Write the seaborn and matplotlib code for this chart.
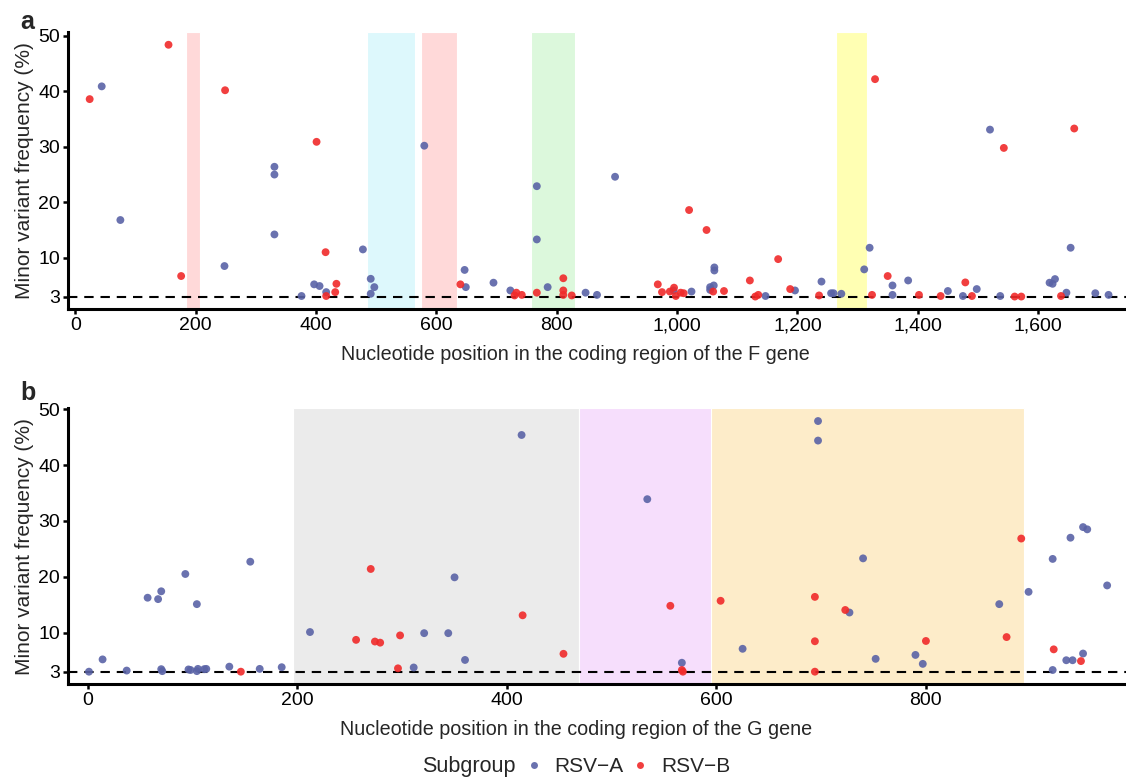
import numpy as np
import pandas as pd
import seaborn as sns
import matplotlib.pyplot as plt
from matplotlib.lines import Line2D
from matplotlib.ticker import FuncFormatter

# F gene, RSV-A
f_pos_a = [44, 75, 248, 331, 331, 331, 376, 397, 406, 417, 478, 491, 497, 491, 580,
           647, 649, 695, 723, 767, 767, 785, 848, 867, 897, 994, 1024, 1062, 1062,
           1055, 1061, 1055, 1147, 1196, 1240, 1256, 1260, 1273, 1311, 1320, 1358,
           1358, 1384, 1450, 1475, 1498, 1520, 1537, 1619, 1624, 1628, 1647, 1654,
           1695, 1717]
f_freq_a = [40.9, 16.8, 8.5, 26.4, 25.0, 14.2, 3.1, 5.2, 4.9, 3.8, 11.5, 6.2, 4.7, 3.5, 30.2,
            7.8, 4.7, 5.5, 4.1, 22.9, 13.3, 4.7, 3.7, 3.3, 24.6, 4.1, 3.9, 8.25, 7.7,
            4.7, 5.0, 4.2, 3.1, 4.1, 5.7, 3.6, 3.6, 3.5, 7.9, 11.8, 5.0,
            3.3, 5.9, 4.0, 3.1, 4.35, 33.1, 3.1, 5.5, 5.3, 6.15, 3.7, 11.8,
            3.6, 3.3]
# F gene, RSV-B
f_pos_b = [24, 155, 176, 249, 401, 416, 417, 434, 432, 640, 730, 733, 742, 767, 811, 811,
           811, 825, 968, 975, 988, 995, 998, 1006, 1011, 1020, 1049, 1060, 1078, 1121,
           1130, 1135, 1168, 1188, 1236, 1329, 1324, 1350, 1402, 1438, 1479, 1490, 1543,
           1561, 1572, 1638, 1660]
f_freq_b = [38.6, 48.4, 6.7, 40.2, 30.9, 11.0, 3.1, 5.3, 3.8, 5.2, 3.2, 3.7, 3.3, 3.7, 6.3, 4.1,
            3.3, 3.2, 5.2, 3.8, 3.9, 4.6, 3.1, 3.7, 3.6, 18.6, 15.0, 3.9, 4.0, 5.9,
            3.0, 3.3, 9.75, 4.35, 3.2, 42.2, 3.3, 6.7, 3.3, 3.1, 5.55, 3.1, 29.8,
            3.0, 3.0, 3.1, 33.3]

# G gene, RSV-A
g_pos_a = [1, 14, 37, 57, 67, 70, 70, 71, 93, 104, 96, 98, 104, 105, 111, 113, 135, 155,
           164, 185, 212, 311, 321, 344, 350, 360, 414, 534, 567, 625, 697, 697, 727,
           740, 752, 790, 797, 870, 898, 921, 921, 934, 940, 938, 950, 954, 950, 973]
g_freq_a = [3.0, 5.2, 3.2, 16.25, 16.0, 17.4, 3.45, 3.1, 20.5, 15.1, 3.4, 3.3, 3.1, 3.5, 3.45,
            3.5, 3.9, 22.7, 3.5, 3.8, 10.1, 3.75, 9.9, 9.9, 19.9, 5.1, 45.4, 33.9, 4.6,
            7.1, 47.9, 44.4, 13.6, 23.3, 5.3, 6.0, 4.4, 15.1, 17.3, 23.2, 3.3, 5.05,
            5.05, 27.0, 28.9, 28.5, 6.25, 18.45]
# G gene, RSV-B
g_pos_b = [146, 256, 270, 274, 279, 296, 298, 415, 454, 556, 567, 568, 604, 694, 694, 694,
           723, 800, 877, 891, 922, 948]
g_freq_b = [3.0, 8.7, 21.4, 8.4, 8.2, 3.6, 9.5, 13.1, 6.2, 14.8, 3.3, 3.0, 15.7, 16.4, 8.45,
            3.0, 14.05, 8.5, 9.2, 26.85, 7.0, 4.9]

# shaded regions (start, end, colour)
f_reg_start = [184, 484, 574, 757, 1264]
f_reg_end = [208, 565, 634, 831, 1315]
f_reg_col = ['#ffd9d9', '#ddf8fc', '#ffd9d9', '#dcf8dc', '#ffffb3']
g_reg_start = [196, 469, 595]
g_reg_end = [469, 595, 894]
g_reg_col = ['#ebebeb', '#f6defc', '#fdecc9']

y_ticks = [3, 10, 20, 30, 40, 50]
f_ticks = [0, 200, 400, 600, 800, 1000, 1200, 1400, 1600]
g_ticks = [0, 200, 400, 600, 800]

pal = {'RSV\u2212A': '#5a63a6', 'RSV\u2212B': '#f02a2a'}


def make_df(pa, fa, pb, fb):
    da = pd.DataFrame({'pos': pa, 'freq': fa, 'Subgroup': 'RSV\u2212A'})
    db = pd.DataFrame({'pos': pb, 'freq': fb, 'Subgroup': 'RSV\u2212B'})
    return pd.concat([da, db], ignore_index=True)


df_f = make_df(f_pos_a, f_freq_a, f_pos_b, f_freq_b)
df_g = make_df(g_pos_a, g_freq_a, g_pos_b, g_freq_b)

sns.set_theme(style='ticks')
plt.rcParams['font.family'] = ['Liberation Sans', 'DejaVu Sans']

fig = plt.figure(figsize=(11.26, 7.79), dpi=100)
ax_a = fig.add_axes([0.0604, 0.6033, 0.9396, 0.3556])
ax_b = fig.add_axes([0.0604, 0.122, 0.9396, 0.354])


def draw_panel(ax, df, starts, ends, cols, xlim, ylim, xticks, xlabel, fmt=None):
    for s, e, c in zip(starts, ends, cols):
        ax.axvspan(s, e, color=c, lw=0.8, ec='white', zorder=0)
    ax.axhline(3, color='black', ls=(0, (4.5, 3.3)), lw=1.5, zorder=1)
    sns.scatterplot(data=df, x='pos', y='freq', hue='Subgroup', palette=pal,
                    s=32, alpha=0.9, edgecolor='none', legend=False, ax=ax, zorder=3)
    ax.set_xlim(*xlim)
    ax.set_ylim(*ylim)
    ax.set_xticks(xticks)
    ax.set_yticks(y_ticks)
    if fmt:
        ax.xaxis.set_major_formatter(FuncFormatter(fmt))
    ax.set_xlabel(xlabel, fontsize=14.2)
    ax.set_ylabel('Minor variant frequency (%)', fontsize=15)
    ax.xaxis.set_label_coords(0.48, -0.13)
    ax.yaxis.set_label_coords(-0.0325, 0.5)
    ax.tick_params(axis='both', labelsize=14, width=1.8, length=3.8, color='black',
                   labelcolor='black', pad=2)
    sns.despine(ax=ax)
    for sp in ['left', 'bottom']:
        ax.spines[sp].set_linewidth(2.2)
        ax.spines[sp].set_color('black')


draw_panel(ax_a, df_f, f_reg_start, f_reg_end, f_reg_col, (-12, 1746), (0.75, 50.7),
           f_ticks, 'Nucleotide position in the coding region of the F gene',
           fmt=lambda v, _: f'{int(v):,}')
draw_panel(ax_b, df_g, g_reg_start, g_reg_end, g_reg_col, (-19, 991), (0.8, 50.2),
           g_ticks, 'Nucleotide position in the coding region of the G gene')

fig.text(0.018, 0.972, 'a', fontsize=18, fontweight='bold', va='center')
fig.text(0.018, 0.495, 'b', fontsize=18, fontweight='bold', va='center')

handles = [Line2D([], [], ls='none', marker='o', ms=5, color=pal[k], alpha=0.9, mec='none')
           for k in pal]
fig.text(0.4165, 0.016, 'Subgroup', fontsize=15.5, ha='center', va='center')
fig.legend(handles, list(pal.keys()), loc='center', bbox_to_anchor=(0.5567, 0.016),
           ncol=2, frameon=False, fontsize=15, handletextpad=0.5, columnspacing=0.3,
           handlelength=1.0, borderpad=0.2)

fig.savefig('out.png', dpi=100)
